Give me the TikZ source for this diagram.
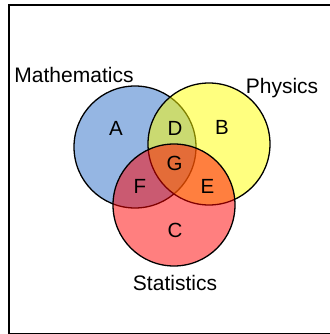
\documentclass[tikz,border=0pt]{standalone}
\usepackage{fontspec}
\setmainfont{Liberation Sans}
\usetikzlibrary{positioning}
\definecolor{VennBlue}{RGB}{43,110,200}
\definecolor{VennYellow}{RGB}{255,255,0}
\definecolor{VennRed}{RGB}{255,0,0}

\begin{document}
\begin{tikzpicture}[
          x=1pt,y=-1pt,
          frame/.style={draw=black,line width=2pt},
          set/.style={circle,draw=black,line width=1.3pt,fill opacity=0.5,
            minimum size=122pt,inner sep=0pt},
          region/.style={font=\fontsize{20.5}{24}\selectfont,anchor=base},
          title/.style={font=\fontsize{21}{25}\selectfont,anchor=base}
        ]
        \path[use as bounding box] (0,0) rectangle (329,334);
        \draw[frame] (9,4.7) rectangle (331,334);

        \node[set,fill=VennBlue] (math) at (135,147) {};
        \node[set,fill=VennYellow] (phys) at (209,144) {};
        \node[set,fill=VennRed] (stat) at (174,205) {};

        \node[title] (mathlbl) at (74,83) {Mathematics};
        \node[title] (physlbl) at (282,93) {Physics};
        \node[title] (statlbl) at (175,290) {Statistics};

        \node[region] (A) at (116,135) {A};
        \node[region] (B) at (222,134) {B};
        \node[region] (C) at (175,237) {C};
        \node[region] (D) at (175,135) {D};
        \node[region] (E) at (207.5,193.5) {E};
        \node[region] (F) at (140,193.5) {F};
        \node[region] (G) at (174.5,170) {G};
      \end{tikzpicture}
\end{document}
